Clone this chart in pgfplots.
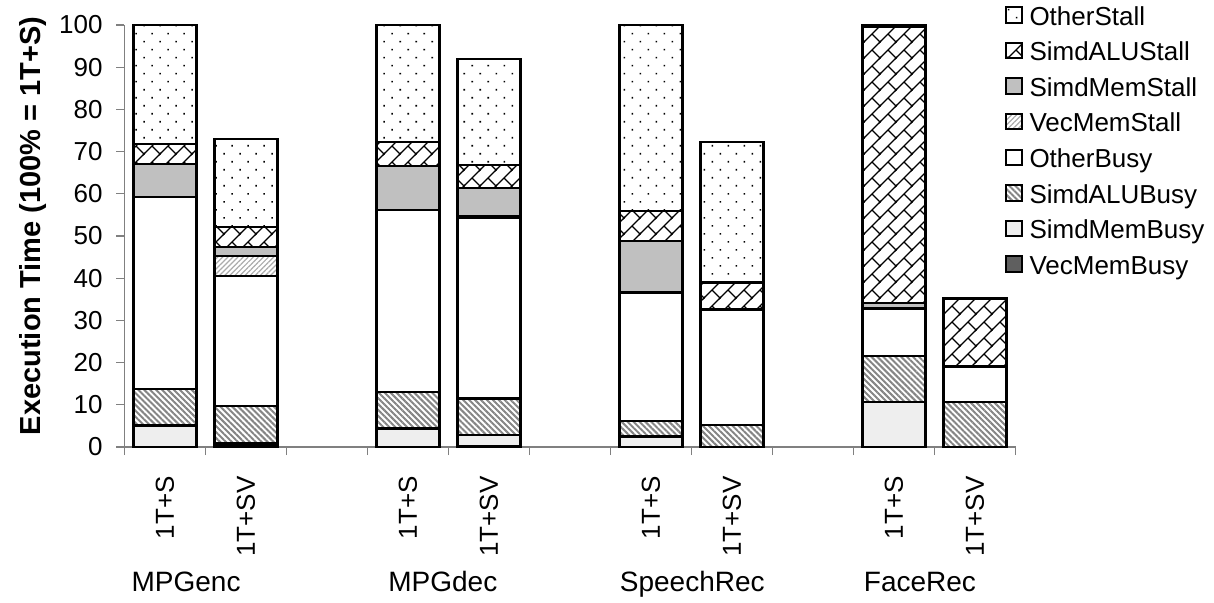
\documentclass[border=0pt]{standalone}
\usepackage{fontspec}
\setmainfont{Liberation Sans}
\usepackage{pgfplots}
\pgfplotsset{compat=1.18}
\usepackage{pgfplotstable}
\usetikzlibrary{patterns,patterns.meta}

\definecolor{memstall}{HTML}{C0C0C0}
\definecolor{membusy}{HTML}{EEEEEE}
\definecolor{vecbusy}{HTML}{5F5F5F}
\definecolor{hatchgray}{HTML}{858585}
\definecolor{lighthatch}{HTML}{ABABAB}
\definecolor{axisgray}{HTML}{808080}

% diagonal brick hatching for the SIMD ALU stall component
\tikzdeclarepattern{
  name=diagbrick,
  type=uncolored,
  bottom left={(-0.6pt,-0.6pt)},
  top right={(8.6pt,8.6pt)},
  tile size={(8pt,8pt)},
  code={
    \draw[line width=0.6pt] (-0.6pt,-0.6pt) -- (8.6pt,8.6pt);
    \draw[line width=0.6pt] (4pt,4pt) -- (8.2pt,-0.2pt);
  }
}

% execution-time breakdown, % of 1T+S; x = slot of each bar
\pgfplotstableread{
x  VecMemBusy SimdMemBusy SimdALUBusy OtherBusy VecMemStall SimdMemStall SimdALUStall OtherStall
0  0.0        5.1         8.7         45.4      0.0         7.8          4.8          28.2
1  0.6        0.4         8.7         30.9      4.6         2.2          4.8          20.7
3  0.0        4.4         8.7         43.1      0.0         10.4         5.7          27.7
4  0.3        2.5         8.7         42.7      0.6         6.6          5.4          25.1
6  0.0        2.5         3.6         30.5      0.0         12.2         7.1          44.1
7  0.0        0.0         5.3         27.3      0.0         0.0          6.4          33.2
9  0.0        10.7        10.8        11.3      0.0         1.3          65.4         0.5
10 0.0        0.0         10.7        8.4       0.0         0.0          16.1         0.2
}\breakdown

\begin{document}
\begin{tikzpicture}
\begin{axis}[
  at={(0,0)}, anchor=south west,
  scale only axis, width=445.5pt, height=211pt,
  ybar stacked, bar width=31.5pt,
  xmin=-0.5, xmax=10.5, ymin=0, ymax=100,
  clip=false,
  ytick={0,10,...,100},
  xtick={0,1,3,4,6,7,9,10},
  xticklabels={1T+S,1T+SV,1T+S,1T+SV,1T+S,1T+SV,1T+S,1T+SV},
  minor xtick={-0.5,0.5,...,10.5},
  axis x line*=bottom, axis y line*=left,
  axis line style={axisgray, line width=0.6pt},
  tick align=outside,
  major tick length=4pt, minor tick length=4pt,
  major x tick style={draw=none},
  minor x tick style={axisgray, line width=0.6pt},
  major y tick style={axisgray, line width=0.6pt},
  /pgf/number format/assume math mode=true,
  tick label style={font=\fontsize{13}{15}\selectfont},
  xticklabel style={yshift=-10.5pt, rotate=90, anchor=east, inner sep=0pt},
  yticklabel style={xshift=-6.75pt, anchor=east, inner sep=0pt},
  ylabel={Execution Time (100\% = 1T+S)},
  ylabel style={font=\bfseries\fontsize{14.5}{17}\selectfont,
    at={(axis description cs:-0.103,0.524)}, anchor=center},
  every axis plot/.append style={draw=black, line width=1.1pt},
  legend image code/.code={\draw[#1, line width=1pt] (0pt,-2.2pt) rectangle (7.75pt,5.55pt);},
  reverse legend,
  legend cell align=left,
  legend style={at={(axis description cs:0.9882,1.045)}, anchor=north west,
    draw=none, fill=none, inner sep=0pt, outer sep=0pt,
    font=\fontsize{13}{15}\selectfont, row sep=5.6pt, column sep=3.5pt,
    nodes={inner sep=0pt, text height=9.5pt, text depth=2.7pt}},
]
\addplot[fill=vecbusy] table[x=x, y=VecMemBusy] {\breakdown};
\addlegendentry{VecMemBusy}
\addplot[fill=membusy] table[x=x, y=SimdMemBusy] {\breakdown};
\addlegendentry{SimdMemBusy}
\addplot[pattern={Lines[angle=-45, distance=2.1pt, line width=1.0pt]}, pattern color=hatchgray] table[x=x, y=SimdALUBusy] {\breakdown};
\addlegendentry{SimdALUBusy}
\addplot[fill=white] table[x=x, y=OtherBusy] {\breakdown};
\addlegendentry{OtherBusy}
\addplot[pattern={Lines[angle=45, distance=1.8pt, line width=0.6pt]}, pattern color=lighthatch] table[x=x, y=VecMemStall] {\breakdown};
\addlegendentry{VecMemStall}
\addplot[fill=memstall] table[x=x, y=SimdMemStall] {\breakdown};
\addlegendentry{SimdMemStall}
\addplot[pattern=diagbrick, pattern color=black] table[x=x, y=SimdALUStall] {\breakdown};
\addlegendentry{SimdALUStall}
\addplot[pattern={Dots[distance=5.66pt, angle=45, radius=0.55pt]}, pattern color=black] table[x=x, y=OtherStall] {\breakdown};
\addlegendentry{OtherStall}

% benchmark names under each pair of bars
\node[anchor=base, yshift=-72pt, font=\fontsize{14}{16}\selectfont] at (axis cs:0.26,0) {MPGenc};
\node[anchor=base, yshift=-72pt, font=\fontsize{14}{16}\selectfont] at (axis cs:3.43,0) {MPGdec};
\node[anchor=base, yshift=-72pt, font=\fontsize{14}{16}\selectfont] at (axis cs:6.51,0) {SpeechRec};
\node[anchor=base, yshift=-72pt, font=\fontsize{14}{16}\selectfont] at (axis cs:9.32,0) {FaceRec};
\end{axis}
\pgfresetboundingbox
\useasboundingbox (-62.25pt,-77.5pt) rectangle (544.75pt,223.5pt);
\end{tikzpicture}
\end{document}
